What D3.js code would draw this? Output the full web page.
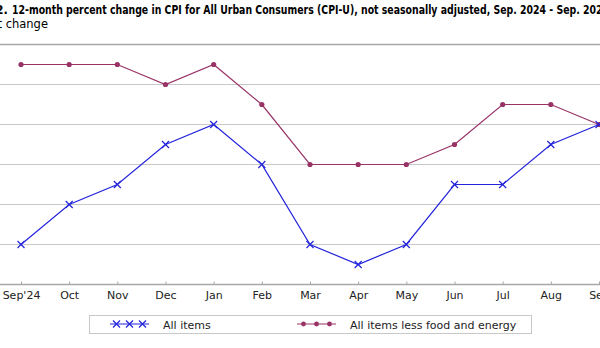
<!doctype html>
<meta charset="utf-8">
<head>
<script src="https://d3js.org/d3.v7.min.js"></script>
<style>
  body { margin: 0; background: #fff; }
  text { font-family: "DejaVu Sans", Verdana, sans-serif; }
</style>
</head>
<body>
<svg width="600" height="348"></svg>
<script>
    // months shown on the category axis
    let months = ["Sep'24", "Oct", "Nov", "Dec", "Jan", "Feb", "Mar", "Apr", "May", "Jun", "Jul", "Aug", "Sep"];
    // 12-month percent change, all items
    let allItems = [2.4, 2.6, 2.7, 2.9, 3.0, 2.8, 2.4, 2.3, 2.4, 2.7, 2.7, 2.9, 3.0];
    // 12-month percent change, all items less food and energy
    let coreItems = [3.3, 3.3, 3.3, 3.2, 3.3, 3.1, 2.8, 2.8, 2.8, 2.9, 3.1, 3.1, 3.0];
    let yTicks = [2.2, 2.4, 2.6, 2.8, 3.0, 3.2, 3.4];

    let blue = "#2323dc";
    let maroon = "#993366";

    let svg = d3.select("svg");

    // the picture is a crop: plot area runs off both sides
    let x = d3.scalePoint().domain(months).range([21, 599]);
    let y = d3.scaleLinear().domain([2.2, 3.4]).range([284.5, 44.5]);

    // title (cut on the left and right, as in the source picture)
    svg.append("text")
        .attr("x", 8).attr("y", 14)
        .attr("text-anchor", "end")
        .attr("font-family", "Liberation Sans")
        .attr("font-weight", "bold")
        .attr("font-size", 11.5)
        .text("Chart 2.");
    svg.append("text")
        .attr("x", 12).attr("y", 14)
        .attr("font-family", "Liberation Sans")
        .attr("font-weight", "bold")
        .attr("font-size", 11.5)
        .attr("textLength", 597)
        .attr("lengthAdjust", "spacingAndGlyphs")
        .text("12-month percent change in CPI for All Urban Consumers (CPI-U), not seasonally adjusted, Sep. 2024 - Sep. 2025");
    svg.append("text")
        .attr("x", 48).attr("y", 28)
        .attr("text-anchor", "end")
        .attr("font-family", "Liberation Sans")
        .attr("font-size", 11.5)
        .text("Percent change");

    // gridlines
    svg.append("g").selectAll("line")
        .data(yTicks.slice(1, -1))
        .enter().append("line")
        .attr("x1", 0).attr("x2", 600)
        .attr("y1", (d) => y(d)).attr("y2", (d) => y(d))
        .attr("stroke", "#c8c8c8")
        .attr("stroke-width", 1);

    // top border
    svg.append("line")
        .attr("x1", 0).attr("x2", 600)
        .attr("y1", y(3.4)).attr("y2", y(3.4))
        .attr("stroke", "#a6a6a6")
        .attr("stroke-width", 1.5);

    // x axis
    let xAxis = svg.append("g")
        .attr("transform", `translate(0,${y(2.2)})`)
        .call(d3.axisBottom(x).tickSize(-3).tickPadding(7));
    xAxis.select(".domain").remove();
    xAxis.selectAll(".tick line").attr("stroke", "#a6a6a6");
    xAxis.selectAll(".tick text")
        .attr("font-family", "DejaVu Sans")
        .attr("font-size", 11)
        .attr("fill", "#222");
    svg.append("line")
        .attr("x1", 0).attr("x2", 600)
        .attr("y1", y(2.2)).attr("y2", y(2.2))
        .attr("stroke", "#a6a6a6")
        .attr("stroke-width", 1.5);

    let line = d3.line()
        .x((d, i) => x(months[i]))
        .y((d) => y(d));

    // core line with dots
    svg.append("path")
        .datum(coreItems)
        .attr("fill", "none")
        .attr("stroke", maroon)
        .attr("stroke-width", 1.2)
        .attr("d", line);
    svg.append("g").selectAll("circle")
        .data(coreItems)
        .enter().append("circle")
        .attr("cx", (d, i) => x(months[i]))
        .attr("cy", (d) => y(d))
        .attr("r", 2.6)
        .attr("fill", maroon);

    // all items line with x markers
    svg.append("path")
        .datum(allItems)
        .attr("fill", "none")
        .attr("stroke", blue)
        .attr("stroke-width", 1.2)
        .attr("d", line);
    let cross = (cx, cy) => `M${cx - 3.5},${cy - 3.5}L${cx + 3.5},${cy + 3.5}M${cx - 3.5},${cy + 3.5}L${cx + 3.5},${cy - 3.5}`;
    svg.append("g").selectAll("path")
        .data(allItems)
        .enter().append("path")
        .attr("d", (d, i) => cross(x(months[i]), y(d)))
        .attr("stroke", blue)
        .attr("stroke-width", 1.2);

    // legend
    let legend = svg.append("g");
    legend.append("rect")
        .attr("x", 89.5).attr("y", 315.5)
        .attr("width", 442).attr("height", 18)
        .attr("fill", "#fff")
        .attr("stroke", "#c8c8c8");

    let legendItems = [
        { label: "All items", color: blue, marker: "x", x0: 110, tx: 163 },
        { label: "All items less food and energy", color: maroon, marker: "dot", x0: 297, tx: 350 }
    ];
    legendItems.forEach((it) => {
        legend.append("line")
            .attr("x1", it.x0).attr("x2", it.x0 + 39)
            .attr("y1", 324).attr("y2", 324)
            .attr("stroke", it.color)
            .attr("stroke-width", 1.2);
        [0, 1, 2].forEach((k) => {
            let cx = it.x0 + 6.5 + k * 13;
            if (it.marker == "x") {
                legend.append("path")
                    .attr("d", cross(cx, 324))
                    .attr("stroke", it.color)
                    .attr("stroke-width", 1.2);
            } else {
                legend.append("circle")
                    .attr("cx", cx).attr("cy", 324)
                    .attr("r", 2.4)
                    .attr("fill", it.color);
            }
        });
        legend.append("text")
            .attr("x", it.tx).attr("y", 328.5)
            .attr("font-family", "DejaVu Sans")
            .attr("font-size", 11)
            .attr("fill", "#222")
            .text(it.label);
    });
</script>
</body>
